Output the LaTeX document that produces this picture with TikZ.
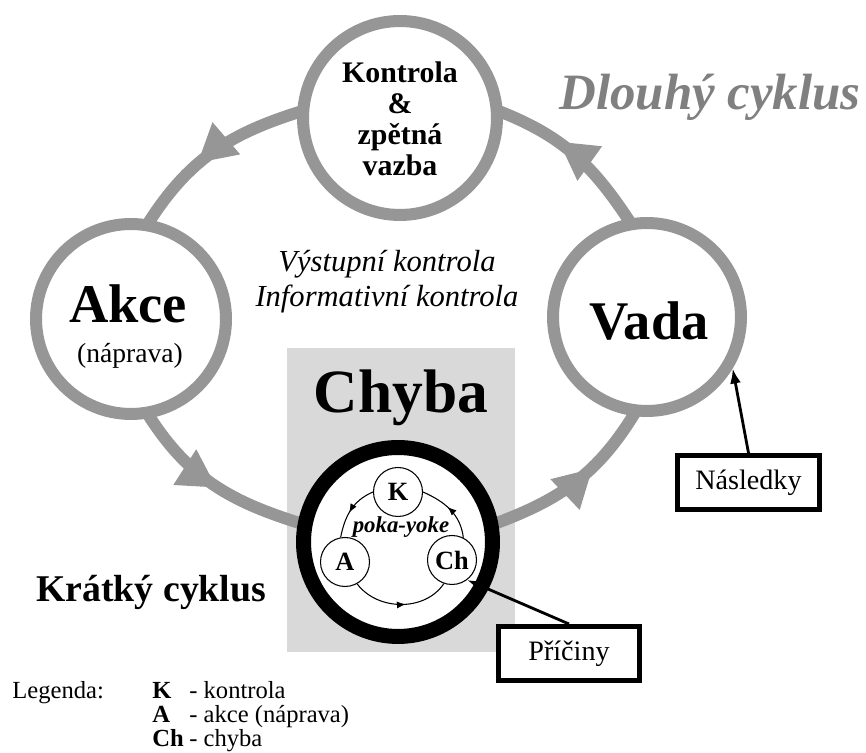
\documentclass[tikz,border=0pt]{standalone}
\usepackage{fontspec}
\setmainfont{Liberation Serif}
\usetikzlibrary{arrows.meta, decorations.markings, backgrounds}
\definecolor{cyclegray}{RGB}{150,150,150}
\definecolor{boxgray}{RGB}{217,217,217}
\definecolor{titlegray}{RGB}{128,128,128}

\begin{document}
\begin{tikzpicture}[x=0.02cm, y=0.02cm,
    phase/.style={circle, draw=cyclegray, line width=0.24cm, fill=white, minimum size=#1, inner sep=0pt},
    cyclearc/.style={draw=cyclegray, line width=0.24cm, shorten <=-0.15cm, shorten >=-0.15cm,
        postaction={decorate}, decoration={markings, mark=at position #1 with
        {\arrow{Triangle[length=0.75cm, width=0.85cm, line width=0pt]}}}},
    pyk/.style={circle, draw=black, line width=0.6pt, fill=white, minimum size=0.98cm, inner sep=0pt,
        font=\bfseries\fontsize{15}{18}\selectfont},
    innerarc/.style={draw=black, line width=0.6pt, postaction={decorate},
        decoration={markings, mark=at position 0.55 with {\arrow{Latex[length=5pt, width=4pt]}}}},
    note/.style={draw=black, line width=0.1cm, fill=white, minimum width=2.84cm, minimum height=1.08cm,
        font=\fontsize{16}{19}\selectfont},
    pointer/.style={draw=black, line width=1.6pt, -{Latex[length=0.3cm, width=0.22cm]}}]
    \useasboundingbox (0,0) rectangle (866,753);
    % the long cycle
    \node[phase=3.88cm] (kon) at (400,635) {};
    \node[phase=3.80cm] (akce) at (131,434) {};
    \node[phase=3.76cm] (vada) at (647,436) {};
    % the short cycle
    \node[circle, draw=black, line width=0.3cm, fill=white, minimum size=3.78cm] (chyb) at (398,211) {};
    \node[pyk] (k) at (398,261) {K};
    \node[pyk] (a) at (345,191) {A};
    \node[pyk] (ch) at (452,193) {Ch};
    \draw[innerarc] (k.180) to[out=203, in=79] (a.100);
    \draw[innerarc] (a.-61) to[out=307, in=236] (ch.251);
    \draw[innerarc] (ch.63) to[out=97, in=336] (k.0);
    \node[font=\bfseries\itshape\fontsize{13}{15}\selectfont] (poka) at (401,226) {poka-yoke};
    \begin{scope}[on background layer]
        \fill[boxgray] (287,101) rectangle (515,405);
        \draw[cyclearc=0.6] (kon.177) to[out=197, in=58] (akce.79);
        \draw[cyclearc=0.52] (akce.281) to[out=302, in=163] (chyb.169);
        \draw[cyclearc=0.62] (chyb.11) to[out=20, in=239] (vada.262);
        \draw[cyclearc=0.62] (vada.101) to[out=123, in=339] (kon.3);
    \end{scope}
    % labels
    \node[align=center, font=\bfseries\fontsize{17}{17.6}\selectfont] (konT) at (400,634) {Kontrola\\\&\\zpětná\\vazba};
    \node[anchor=base, font=\bfseries\fontsize{31}{36}\selectfont] (akceT) at (128,430) {Akce};
    \node[anchor=base, font=\fontsize{15.7}{18}\selectfont] (napr) at (130,390) {(náprava)};
    \node[anchor=base, font=\bfseries\fontsize{31}{36}\selectfont] (vadaT) at (649,413) {Vada};
    \node[anchor=base, font=\bfseries\fontsize{35}{40}\selectfont] (chybT) at (401,340) {Chyba};
    \node[anchor=base, font=\itshape\fontsize{17.4}{20}\selectfont] (vyst) at (387,481) {Výstupní kontrola};
    \node[anchor=base, font=\itshape\fontsize{17.4}{20}\selectfont] (info) at (387,446) {Informativní kontrola};
    \node[anchor=base, text=titlegray, font=\bfseries\itshape\fontsize{29}{34}\selectfont] (dlouhy) at (710,643) {Dlouhý cyklus};
    \node[anchor=base west, inner sep=0pt, font=\bfseries\fontsize{21.5}{25}\selectfont] (kratky) at (36,151) {Krátký cyklus};
    % causes and consequences
    \node[note] (nas) at (748.5,270.5) {Následky};
    \node[note] (pri) at (569,99.5) {Příčiny};
    \draw[pointer] (nas.north) -- (vada.-31);
    \draw[pointer] (pri.north) -- (ch.-53);
    % legend
    \node[anchor=base west, inner sep=0pt, font=\fontsize{14}{13}\selectfont] (leg) at (12,54) {Legenda:};
    \node[anchor=base west, inner sep=0pt, font=\fontsize{14}{13}\selectfont] (legitems) at (152,54)
        {\begin{tabular}[t]{@{}p{0.74cm}@{}l@{}}\textbf{K} & - kontrola\\ \textbf{A} & - akce (náprava)\\ \textbf{Ch} & - chyba\end{tabular}};
\end{tikzpicture}
\end{document}
